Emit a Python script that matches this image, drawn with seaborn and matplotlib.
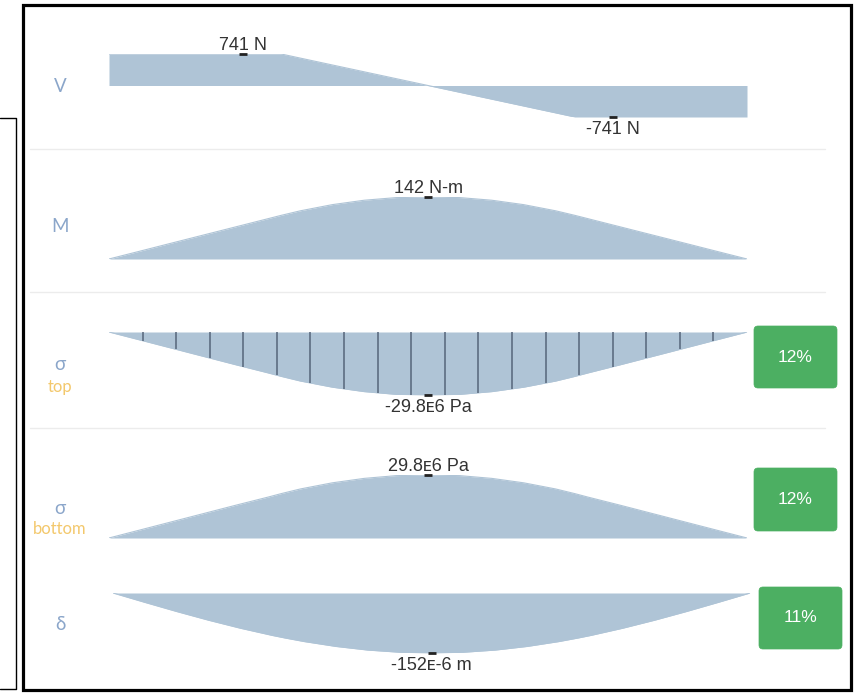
import numpy as np
import pandas as pd
import matplotlib
matplotlib.use("Agg")
import matplotlib.pyplot as plt
from matplotlib.patches import FancyBboxPatch, Rectangle
import seaborn as sns

sns.set_theme(style="white")
plt.rcParams["font.family"] = ["Liberation Sans", "DejaVu Sans"]

# ---- beam results (stations along the beam, m) ----
x_pos = [0.0, 0.025, 0.05, 0.075, 0.1, 0.125, 0.135, 0.15, 0.175, 0.2, 0.225, 0.25,
         0.275, 0.3, 0.325, 0.35, 0.365, 0.375, 0.4, 0.425, 0.45, 0.475, 0.5]
shear_N = [741, 741, 741, 741, 741, 741, 741, 644, 483, 322, 161, 0,
           -161, -322, -483, -644, -741, -741, -741, -741, -741, -741, -741]
moment_Nm = [0, 18.5, 37.1, 55.6, 74.1, 92.6, 100.0, 110.4, 124.5, 134.6, 140.6, 142.0,
             140.6, 134.6, 124.5, 110.4, 100.0, 92.6, 74.1, 55.6, 37.1, 18.5, 0]
sigma_bottom_MPa = [0, 3.9, 7.8, 11.7, 15.6, 19.4, 21.0, 23.2, 26.1, 28.2, 29.5, 29.8,
                    29.5, 28.2, 26.1, 23.2, 21.0, 19.4, 15.6, 11.7, 7.8, 3.9, 0]
sigma_top_MPa = [-v for v in sigma_bottom_MPa]
deflection_um = [0, -23.8, -47.0, -69.0, -89.3, -107.5, -114.0, -123.0, -135.4, -144.6, -150.1, -152.0,
                 -150.1, -144.6, -135.4, -123.0, -114.0, -107.5, -89.3, -69.0, -47.0, -23.8, 0]

# peak labels: (station, value, text)
peak_labels = [
    [(0.105, 741, "741 N"), (0.395, -741, "-741 N")],
    [(0.25, 142.0, "142 N-m")],
    [(0.25, -29.8, "-29.8ᴇ6 Pa")],
    [(0.25, 29.8, "29.8ᴇ6 Pa")],
    [(0.25, -152.0, "-152ᴇ-6 m")],
]
row_symbols = ["V", "M", "σ", "σ", "δ"]
row_subtitles = ["", "", "top", "bottom", ""]
utilisation = ["", "", "12%", "12%", "11%"]
hatch_count = 19

W, H = 861, 693
FILL = "#afc4d6"
fig = plt.figure(figsize=(W / 100, H / 100), dpi=100)
fig.patch.set_facecolor("white")

# overlay in pixel units for the page furniture
bg = fig.add_axes([0, 0, 1, 1], zorder=0)
bg.set_xlim(0, W)
bg.set_ylim(H, 0)
bg.axis("off")

bg.add_patch(Rectangle((23, 5), 828, 685, fill=False, ec="black", lw=2.3))
bg.plot([0, 16, 16, 0], [118, 118, 689, 689], color="black", lw=1.0)
for yy in [149, 292, 428]:
    bg.plot([30, 825], [yy, yy], color="#ececec", lw=1.0)

# row label anchors (px)
sym_y = [86, 227, 365, 508, 625]
sub_y = [None, None, 387, 529, None]
for s, sub, sy, uy in zip(row_symbols, row_subtitles, sym_y, sub_y):
    bg.text(60, sy, s, ha="center", va="center", color="#8ba6ca", fontsize=13.5,
            family=["Lato", "DejaVu Sans"])
    if sub:
        bg.text(60, uy, sub, ha="center", va="center", color="#f3c86c", fontsize=12,
                family=["Lato", "DejaVu Sans"])

box_geom = [None, None, (754, 326, 83, 62), (754, 468, 83, 63), (759, 587, 83, 62)]
for txt, g in zip(utilisation, box_geom):
    if not txt:
        continue
    bx, by, bw, bh = g
    bg.add_patch(FancyBboxPatch((bx, by), bw, bh, boxstyle="round,pad=0,rounding_size=4",
                                fc="#4caf62", ec="#4caf62", lw=0.5))
    bg.text(bx + bw / 2, by + bh / 2, txt, ha="center", va="center", color="white", fontsize=12.5)

# diagram panels: (values, top px, bottom px, left px, right px, ylim)
panels = [
    (shear_N, 54, 117, 109, 747, (-741, 741)),
    (moment_Nm, 197, 259, 109, 747, (0, 142.0)),
    (sigma_top_MPa, 332, 395, 109, 747, (-29.8, 0)),
    (sigma_bottom_MPa, 475, 538, 109, 747, (0, 29.8)),
    (deflection_um, 593, 653, 113, 750, (-152.0, 0)),
]

for i, (vals, top, bot, left, right, ylim) in enumerate(panels):
    ax = fig.add_axes([left / W, 1 - bot / H, (right - left) / W, (bot - top) / H], zorder=2)
    ax.patch.set_alpha(0)
    df = pd.DataFrame({"x": x_pos, "v": vals})
    ax.fill_between(df["x"], 0, df["v"], color=FILL, lw=0)
    sns.lineplot(data=df, x="x", y="v", ax=ax, color=FILL, lw=0.8, estimator=None, sort=False)
    ax.set_xlim(0, 0.5)
    ax.set_ylim(*ylim)
    ax.axis("off")

    if i == 2:
        xs = np.linspace(0, 0.5, hatch_count + 1)[1:-1]
        ends = np.interp(xs, x_pos, vals)
        ax.vlines(xs, ends, 0, color="#56657a", lw=1.1)

    for (xk, val, txt) in peak_labels[i]:
        ax.plot([xk], [val], marker="_", color="#222222", ms=5.5, mew=2, clip_on=False)
        above = val > 0
        ax.annotate(txt, xy=(xk, val), xytext=(0, 3 if above else -3), textcoords="offset points",
                    ha="center", va="baseline" if above else "top", fontsize=13,
                    color="#333333", annotation_clip=False)

fig.savefig("out.png", dpi=100, facecolor="white")
